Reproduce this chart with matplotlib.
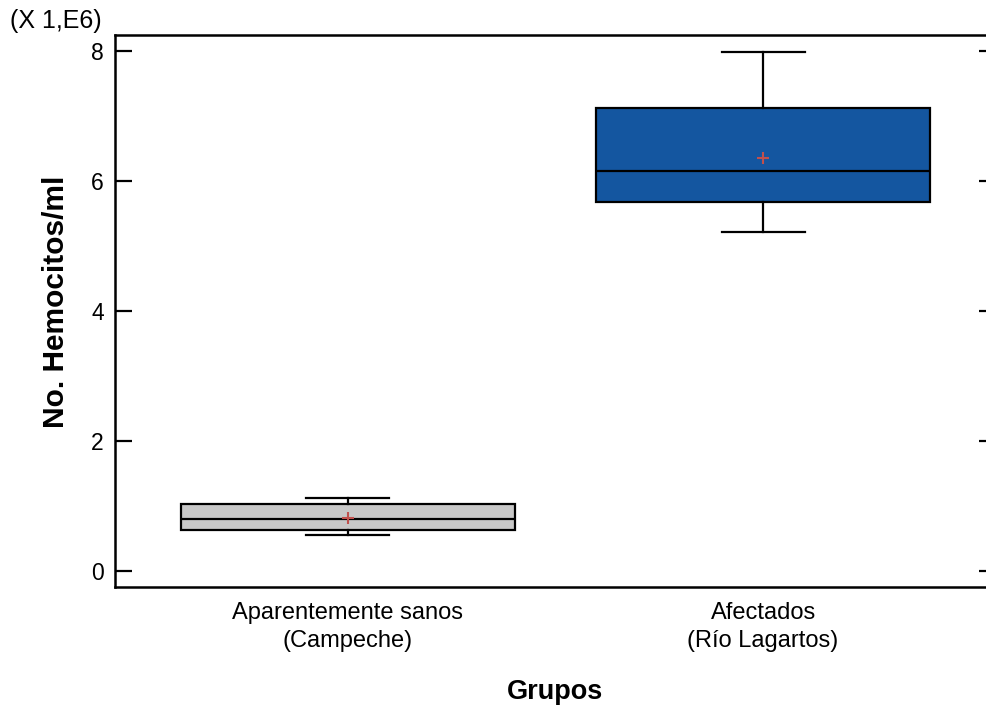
import matplotlib
matplotlib.use("Agg")
import matplotlib.pyplot as plt

plt.rcParams['font.family'] = ['Liberation Sans', 'DejaVu Sans']

# Group labels and box statistics (values in millions of hemocytes/ml)
groups = ["Aparentemente sanos\n(Campeche)", "Afectados\n(Río Lagartos)"]
whisker_low = [0.55, 5.21]
q1 = [0.63, 5.68]
medians = [0.80, 6.15]
q3 = [1.03, 7.13]
whisker_high = [1.12, 7.99]
means = [0.82, 6.35]
box_colors = ["#c8c8c8", "#1456a0"]

stats = []
for i in range(len(groups)):
    stats.append(dict(whislo=whisker_low[i], q1=q1[i], med=medians[i],
                      q3=q3[i], whishi=whisker_high[i], mean=means[i],
                      fliers=[], label=groups[i]))

fig = plt.figure(figsize=(9.87, 7.06), dpi=100)
ax = fig.add_axes([115/987, 1 - 587/706, (996 - 115)/987, (587 - 35)/706])

bp = ax.bxp(stats, positions=[1, 2], widths=0.805, patch_artist=True,
            showmeans=True, showfliers=False,
            boxprops=dict(linewidth=1.6, edgecolor="black"),
            medianprops=dict(color="black", linewidth=1.6),
            whiskerprops=dict(color="black", linewidth=1.6),
            capprops=dict(color="black", linewidth=1.6),
            capwidths=0.2,
            meanprops=dict(marker="+", markeredgecolor="#c0504d",
                           markersize=9, markeredgewidth=1.5))
for patch, c in zip(bp["boxes"], box_colors):
    patch.set_facecolor(c)

ax.set_xlim(0.439, 2.561)
ax.set_ylim(-0.25, 8.25)
ax.set_yticks([0, 2, 4, 6, 8])
ax.set_yticklabels(["0", "2", "4", "6", "8"])

for side in ["left", "bottom", "top", "right"]:
    ax.spines[side].set_linewidth(1.8)

ax.tick_params(axis="y", direction="in", length=12, width=1.6,
               labelsize=16.5, pad=8, left=True, right=True)
ax.tick_params(axis="x", length=0, labelsize=17, pad=11)
for t in ax.get_xticklabels():
    t.set_linespacing(1.32)

ax.set_xlabel("Grupos", fontsize=19.5, fontweight="bold", labelpad=20)
ax.set_ylabel("No. Hemocitos/ml", fontsize=21.5, fontweight="bold")
ax.yaxis.set_label_coords((70 - 115) / 881, (587 - 302) / 552)

fig.text(10/987, 1 - 21/706, "(X 1,E6)", fontsize=18, ha="left", va="center")

fig.savefig("out.png", dpi=100)
